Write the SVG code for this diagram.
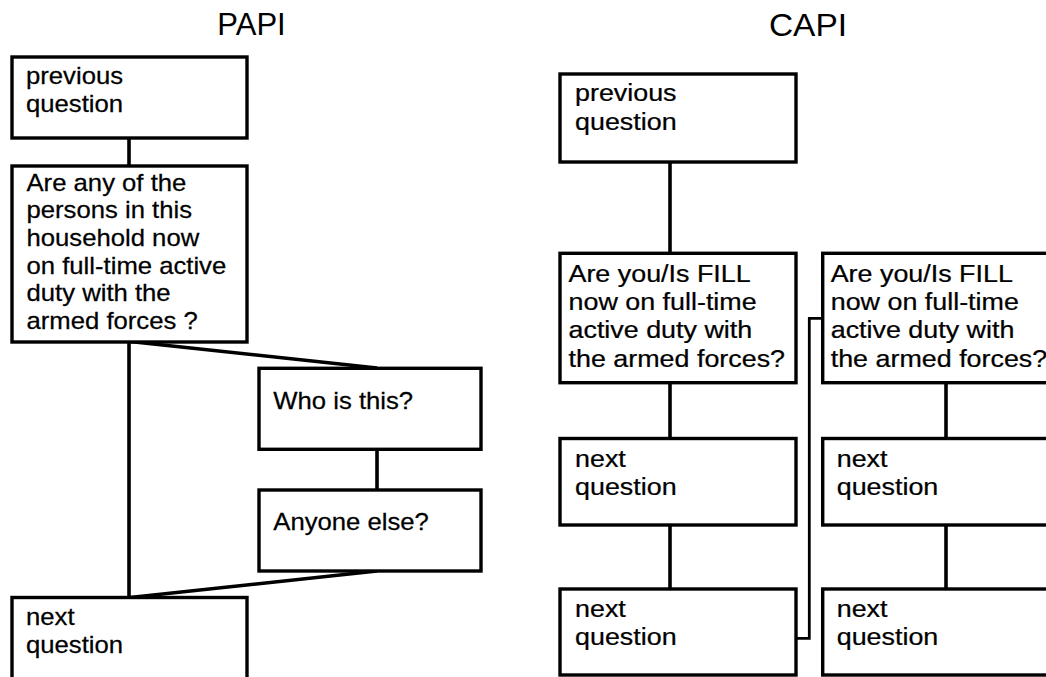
<svg xmlns="http://www.w3.org/2000/svg" width="1046" height="677" viewBox="0 0 1046 677">
<style>
  .box { fill: #ffffff; stroke: #000000; stroke-width: 3.4; }
  .t { font-family: "Liberation Sans", Arial, sans-serif; font-size: 24px; fill: #000000; stroke: #000000; stroke-width: 0.25; }
  .title { font-family: "Liberation Sans", Arial, sans-serif; font-size: 31px; fill: #000000; text-anchor: middle; }
  .c { fill: none; stroke: #000000; stroke-width: 3.6; stroke-linejoin: miter; }
  .thin { fill: none; stroke: #000000; stroke-width: 2.8; }
</style>
<rect x="0" y="0" width="1046" height="677" fill="#ffffff"/>

<text class="title" x="251.5" y="34.5">PAPI</text>
<text class="title" transform="translate(808,36) scale(1.08,1)" x="0" y="0">CAPI</text>

<g id="connectors">
  <line class="c" x1="129" y1="138" x2="129" y2="166"/>
  <line class="c" x1="129" y1="342" x2="129" y2="597.5"/>
  <line class="c" x1="130" y1="341.5" x2="377" y2="368"/>
  <line class="c" x1="377" y1="449" x2="377" y2="490"/>
  <line class="c" x1="377" y1="571" x2="130" y2="597.5"/>
  <line class="c" x1="670" y1="162" x2="670" y2="253"/>
  <line class="c" x1="670" y1="383" x2="670" y2="438.5"/>
  <line class="c" x1="670" y1="525" x2="670" y2="589"/>
  <line class="c" x1="946" y1="383" x2="946" y2="438.5"/>
  <line class="c" x1="946" y1="525" x2="946" y2="589"/>
  <polyline class="thin" points="796,638.3 809.3,638.3 809.3,318.3 822.7,318.3"/>
</g>

<g id="papi-prev">
  <rect class="box" x="12" y="57" width="235" height="81"/>
  <text class="t" transform="translate(26,84.3) scale(1.07,1)"><tspan x="0" y="0">previous</tspan><tspan x="0" y="27.4">question</tspan></text>
</g>
<g id="papi-q">
  <rect class="box" x="12" y="166" width="235" height="176"/>
  <text class="t" transform="translate(26.5,190.7) scale(1.07,1)"><tspan x="0" y="0">Are any of the</tspan><tspan x="0" y="27.67">persons in this</tspan><tspan x="0" y="55.33">household now</tspan><tspan x="0" y="83">on full-time active</tspan><tspan x="0" y="110.67">duty with the</tspan><tspan x="0" y="138.33">armed forces ?</tspan></text>
</g>
<g id="papi-who">
  <rect class="box" x="259" y="368.3" width="222" height="81"/>
  <text class="t" transform="translate(273.3,409.3) scale(1.07,1)" x="0" y="0">Who is this?</text>
</g>
<g id="papi-anyone">
  <rect class="box" x="259" y="490" width="222" height="81"/>
  <text class="t" transform="translate(273.3,530) scale(1.07,1)" x="0" y="0">Anyone else?</text>
</g>
<g id="papi-next">
  <rect class="box" x="12" y="597.5" width="235" height="100"/>
  <text class="t" transform="translate(26,625) scale(1.07,1)"><tspan x="0" y="0">next</tspan><tspan x="0" y="27.7">question</tspan></text>
</g>

<g id="capi-prev">
  <rect class="box" x="560" y="74" width="236" height="88"/>
  <text class="t" transform="translate(575,101.3) scale(1.12,1)"><tspan x="0" y="0">previous</tspan><tspan x="0" y="29">question</tspan></text>
</g>
<g id="capi-q1">
  <rect class="box" x="560" y="253.3" width="236" height="129.4"/>
  <text class="t" transform="translate(568.5,281.7) scale(1.12,1)"><tspan x="0" y="0">Are you/Is FILL</tspan><tspan x="0" y="28.33">now on full-time</tspan><tspan x="0" y="56.67">active duty with</tspan><tspan x="0" y="85">the armed forces?</tspan></text>
</g>
<g id="capi-q2">
  <rect class="box" x="822.7" y="253.3" width="236" height="129.4"/>
  <text class="t" transform="translate(830.7,281.7) scale(1.12,1)"><tspan x="0" y="0">Are you/Is FILL</tspan><tspan x="0" y="28.33">now on full-time</tspan><tspan x="0" y="56.67">active duty with</tspan><tspan x="0" y="85">the armed forces?</tspan></text>
</g>
<g id="capi-next1a">
  <rect class="box" x="560" y="438.5" width="236" height="86.5"/>
  <text class="t" transform="translate(575,466.7) scale(1.12,1)"><tspan x="0" y="0">next</tspan><tspan x="0" y="28.33">question</tspan></text>
</g>
<g id="capi-next1b">
  <rect class="box" x="560" y="589" width="236" height="86"/>
  <text class="t" transform="translate(575,616.7) scale(1.12,1)"><tspan x="0" y="0">next</tspan><tspan x="0" y="28.33">question</tspan></text>
</g>
<g id="capi-next2a">
  <rect class="box" x="822.7" y="438.5" width="236" height="86.5"/>
  <text class="t" transform="translate(836.7,466.7) scale(1.12,1)"><tspan x="0" y="0">next</tspan><tspan x="0" y="28.33">question</tspan></text>
</g>
<g id="capi-next2b">
  <rect class="box" x="822.7" y="589" width="236" height="86"/>
  <text class="t" transform="translate(836.7,616.7) scale(1.12,1)"><tspan x="0" y="0">next</tspan><tspan x="0" y="28.33">question</tspan></text>
</g>
</svg>
